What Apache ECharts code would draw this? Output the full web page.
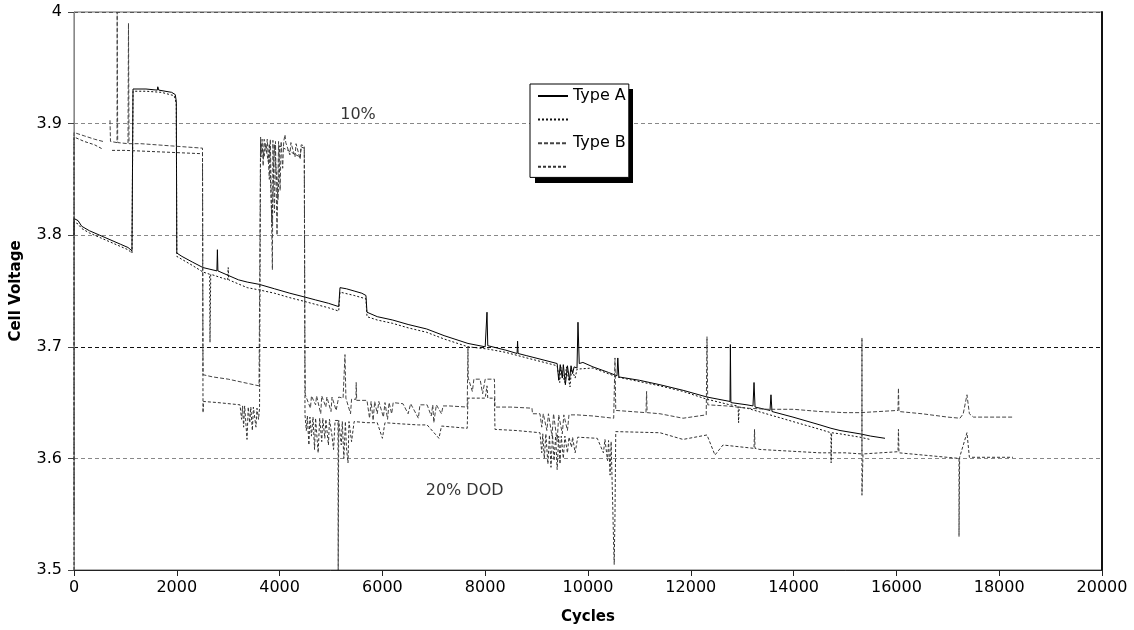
<!DOCTYPE html>
<html>
<head>
<meta charset="utf-8">
<script src="https://cdn.jsdelivr.net/npm/echarts@6/dist/echarts.min.js"></script>
<style>html,body{margin:0;padding:0;background:#fff}#c{width:1134px;height:630px}</style>
</head>
<body>
<div id="c"></div>
<script>
// Series names (legend)
const seriesNames = ['Type A', 'Type A (2)', 'Type B', 'Type B (2)'];
const legendLabels = ['Type A', '', 'Type B', ''];

// Axis settings
const xTicks = [0, 2000, 4000, 6000, 8000, 10000, 12000, 14000, 16000, 18000, 20000];
const yTicks = [3.5, 3.6, 3.7, 3.8, 3.9, 4];

// Annotations [cycles, voltage, text]
const notes = [[5525, 3.908, '10%'], [7600, 3.571, '20% DOD']];

// Type A – first cell  [cycles, cell voltage]
const typeA1 = [
 [0,3.800],[0,3.815],[80,3.813],[150,3.808],[300,3.804],[500,3.800],[700,3.796],[900,3.792],[1050,3.789],[1128,3.786],
 [1148,3.931],[1400,3.931],[1620,3.930],[1630,3.933],[1650,3.930],[1900,3.928],[1970,3.926],[1990,3.920],
 [2000,3.784],[2100,3.781],[2300,3.776],[2510,3.771],[2780,3.768],[2790,3.787],[2800,3.768],[3000,3.764],[3200,3.760],
 [3370,3.758],[3600,3.756],[3900,3.752],[4200,3.748],[4455,3.745],[4700,3.742],[4950,3.739],[5150,3.736],
 [5175,3.753],[5300,3.752],[5450,3.750],[5600,3.748],[5680,3.746],[5700,3.731],[5900,3.727],[6200,3.724],[6500,3.720],
 [6860,3.716],[7200,3.710],[7665,3.703],[8000,3.700],[8035,3.731],[8050,3.701],[8400,3.697],[8620,3.694],[8630,3.705],
 [8640,3.694],[8810,3.692],[9066,3.689],[9400,3.685],[9430,3.670],[9460,3.684],[9500,3.672],[9520,3.684],[9560,3.666],
 [9600,3.683],[9640,3.670],[9670,3.683],[9700,3.676],[9730,3.682],
 [9786,3.681],[9805,3.722],[9830,3.685],[9900,3.686],[10097,3.682],[10400,3.677],[10564,3.674],[10580,3.690],[10600,3.673],
 [11000,3.670],[11400,3.666],[11850,3.661],[12315,3.655],[12763,3.651],[12770,3.702],[12780,3.650],[13093,3.648],
 [13210,3.647],[13230,3.668],[13250,3.646],[13541,3.643],[13560,3.657],[13580,3.642],[13988,3.637],[14513,3.630],
 [14727,3.627],[14903,3.625],[15292,3.622],[15500,3.620],[15778,3.618]
];

// Type A – second cell
const typeA2 = [
 [0,3.800],[0,3.812],[80,3.810],[150,3.806],[300,3.802],[500,3.798],[700,3.794],[900,3.790],[1050,3.787],[1128,3.784],
 [1148,3.929],[1400,3.929],[1700,3.928],[1950,3.925],[1990,3.918],
 [2000,3.781],[2300,3.773],[2510,3.767],[2640,3.765],[2646,3.704],[2660,3.765],[2990,3.760],[3000,3.771],[3010,3.760],
 [3370,3.753],[3600,3.751],[3900,3.748],[4200,3.744],[4455,3.741],[4700,3.738],[4950,3.735],[5150,3.732],
 [5175,3.749],[5450,3.746],[5680,3.743],[5700,3.727],[5900,3.724],[6200,3.721],[6500,3.717],[6860,3.713],[7200,3.707],
 [7665,3.700],[8050,3.698],[8400,3.695],[8810,3.690],[9066,3.687],[9400,3.683],[9450,3.668],[9470,3.682],[9550,3.668],
 [9580,3.682],[9650,3.664],[9680,3.680],[9750,3.672],[9786,3.680],[10097,3.681],[10564,3.673],[11400,3.665],[11850,3.660],
 [12315,3.653],[12763,3.648],[12920,3.647],[12930,3.632],[12940,3.646],[13093,3.645],[13541,3.639],[13988,3.633],
 [14513,3.626],[14727,3.623],[14730,3.596],[14740,3.623],[14903,3.622],[15292,3.619],[15486,3.617]
];

// Type B – first cell
const typeB1 = [
 [0,3.550],[0,3.892],[200,3.889],[400,3.886],[564,3.884],[640,'-'],[700,3.903],[710,3.884],[837,3.883],[840,4.0],[850,3.883],
 [1051,3.882],[1060,3.990],[1070,3.882],[1300,3.882],[1600,3.881],[1900,3.880],[2200,3.879],[2500,3.878],
 [2510,3.675],[2700,3.673],[3000,3.671],[3300,3.668],[3600,3.665],[3619,3.664],
 [3630,3.888],[3640,3.870],[3660,3.886],[3680,3.862],[3700,3.886],[3740,3.875],[3760,3.886],[3800,3.850],[3820,3.886],
 [3852,3.887],[3860,3.769],[3870,3.885],[3900,3.820],[3920,3.884],[3950,3.800],[3980,3.884],[4010,3.840],[4030,3.884],
 [4060,3.860],[4080,3.884],[4105,3.890],[4120,3.883],[4200,3.872],[4220,3.883],[4300,3.870],[4320,3.882],[4400,3.868],
 [4420,3.881],[4480,3.880],[4494,3.686],[4500,3.657],[4600,3.645],[4620,3.656],[4700,3.648],[4720,3.656],[4800,3.640],
 [4820,3.656],[4900,3.646],[4920,3.655],[5000,3.642],[5020,3.655],[5100,3.643],[5150,3.655],
 [5235,3.654],[5272,3.693],[5290,3.654],[5380,3.640],[5400,3.653],[5486,3.653],[5490,3.668],[5500,3.652],[5700,3.652],
 [5750,3.636],[5780,3.651],[5820,3.634],[5850,3.651],[5900,3.640],[5930,3.651],
 [5950,3.651],[6020,3.637],[6050,3.650],[6100,3.635],[6130,3.650],[6180,3.640],[6210,3.650],[6400,3.649],[6500,3.640],
 [6550,3.649],[6700,3.636],[6730,3.648],[6870,3.648],[6950,3.638],[6980,3.648],[7000,3.632],[7050,3.648],[7150,3.640],
 [7180,3.647],[7300,3.647],[7650,3.646],[7665,3.700],[7670,3.672],[7750,3.660],[7780,3.671],[7900,3.671],[7950,3.658],
 [8000,3.671],[8035,3.672],[8180,3.671],
 [8190,3.646],[8500,3.646],[8910,3.645],[8920,3.640],[9066,3.640],[9100,3.628],[9130,3.640],[9200,3.625],[9230,3.640],
 [9300,3.620],[9330,3.640],[9400,3.615],[9430,3.639],[9500,3.622],[9530,3.639],[9600,3.625],[9630,3.639],
 [9786,3.639],[10100,3.638],[10500,3.636],[10525,3.690],[10540,3.643],[11128,3.641],
 [11140,3.660],[11150,3.641],[11400,3.640],[11848,3.636],[12300,3.639],[12315,3.709],[12330,3.648],[12700,3.647],
 [13093,3.645],[13500,3.644],[14000,3.644],[14513,3.642],[15000,3.641],[15300,3.641],[16031,3.643],[16040,3.663],
 [16050,3.642],[16500,3.640],[17000,3.637],[17237,3.636],[17300,3.640],[17373,3.657],[17420,3.640],[17500,3.637],[18268,3.637]
];

// Type B – second cell
const typeB2 = [
 [0,3.500],[0,3.888],[200,3.884],[400,3.881],[564,3.877],[650,'-'],[740,3.876],[1000,3.876],[1500,3.875],[2000,3.874],
 [2500,3.873],[2510,3.641],[2520,3.651],[2800,3.650],[3230,3.648],[3260,3.635],[3280,3.647],[3300,3.628],[3320,3.647],
 [3366,3.617],[3390,3.646],[3420,3.632],[3440,3.646],[3470,3.625],[3490,3.646],[3540,3.628],[3560,3.645],[3590,3.635],
 [3610,3.645],[3619,3.645],
 [3630,3.883],[3700,3.870],[3720,3.882],[3780,3.866],[3800,3.882],[3852,3.808],[3900,3.881],[3970,3.832],[4000,3.880],
 [4400,3.870],[4420,3.879],[4480,3.878],
 [4494,3.639],[4520,3.625],[4540,3.638],[4570,3.612],[4590,3.637],[4620,3.620],[4650,3.637],[4680,3.608],[4700,3.636],
 [4750,3.605],[4780,3.636],[4820,3.615],[4840,3.636],[4880,3.618],[4900,3.635],[4950,3.612],[4970,3.635],[5020,3.620],
 [5050,3.608],[5080,3.634],[5136,3.634],[5140,3.500],[5150,3.634],[5200,3.612],[5220,3.633],[5250,3.600],[5280,3.633],
 [5300,3.610],[5331,3.596],[5350,3.633],[5400,3.615],
 [5450,3.633],[5700,3.632],[5900,3.632],[6000,3.618],[6050,3.632],[6342,3.631],[6700,3.630],[6870,3.630],[7100,3.618],
 [7150,3.629],[7650,3.627],[7665,3.654],[8000,3.654],[8035,3.665],[8050,3.654],[8180,3.654],[8190,3.626],[8600,3.625],
 [9066,3.623],[9100,3.605],[9120,3.622],[9150,3.600],[9180,3.622],[9220,3.595],[9250,3.621],[9280,3.592],[9310,3.621],
 [9340,3.598],[9370,3.620],[9400,3.590],[9430,3.620],[9455,3.595],[9480,3.620],[9520,3.600],[9550,3.620],[9600,3.605],
 [9630,3.619],[9680,3.610],[9700,3.619],[9750,3.605],[9800,3.619],[10180,3.618],[10300,3.605],[10330,3.617],
 [10380,3.598],[10400,3.616],[10430,3.585],[10450,3.615],[10480,3.560],[10500,3.520],[10510,3.505],[10525,3.550],
 [10540,3.624],[11400,3.623],[11848,3.617],[12315,3.621],[12470,3.603],[12626,3.612],[13230,3.609],[13240,3.626],
 [13250,3.609],[13346,3.608],[14513,3.605],[15000,3.605],[15330,3.604],[15330,3.708],[15330,3.567],[15350,3.604],
 [16031,3.606],[16040,3.626],[16050,3.605],[17218,3.600],[17218,3.530],[17230,3.601],[17373,3.623],[17420,3.601],[18268,3.601]
];

const seriesData = [typeA1, typeA2, typeB1, typeB2];
const seriesStyle = [
  {color:'#000', type:'solid'},
  {color:'#111', type:[2,2]},
  {color:'#444', type:[4,2]},
  {color:'#333', type:[3,2]}
];

const FONT = '"DejaVu Sans", Arial, sans-serif';
const chart = echarts.init(document.getElementById('c'), null, {renderer:'canvas'});

const series = seriesData.map((d, i) => ({
  name: seriesNames[i],
  type: 'line',
  data: d,
  showSymbol: false,
  symbol: 'none',
  connectNulls: false,
  silent: true,
  lineStyle: {color: seriesStyle[i].color, width: 1, type: seriesStyle[i].type},
  itemStyle: {color: seriesStyle[i].color},
  z: 3
}));

// annotation texts through the chart's own coordinate system
series.push({
  name: 'notes',
  type: 'scatter',
  data: notes.map(n => ({value: [n[0], n[1]], label: {formatter: n[2]}})),
  symbolSize: 0,
  silent: true,
  label: {show: true, position: 'inside', color: '#000', fontFamily: FONT, fontSize: 16},
  z: 4
});

chart.setOption({
  animation: false,
  backgroundColor: '#fff',
  grid: {left: 74, right: 32, top: 12, bottom: 60, show: true, borderColor: '#666', borderWidth: 1, containLabel: false},
  // drop shadow of the legend box
  graphic: [{
    type: 'rect', left: 535, top: 89, z: 50, silent: true,
    shape: {width: 98, height: 94},
    style: {fill: '#000'}
  }],
  legend: {
    data: seriesNames,
    orient: 'vertical',
    left: 530, top: 84,
    z: 60,
    itemWidth: 30, itemHeight: 14, itemGap: 10,
    padding: [4, 3, 5, 7],
    backgroundColor: '#fff',
    borderColor: '#000', borderWidth: 1,
    itemStyle: {opacity: 0},
    formatter: name => legendLabels[seriesNames.indexOf(name)],
    textStyle: {fontFamily: FONT, fontSize: 16, color: '#000', lineHeight: 16},
    selectedMode: false
  },
  xAxis: {
    type: 'value', min: xTicks[0], max: xTicks[xTicks.length-1], interval: 2000,
    name: 'Cycles', nameLocation: 'middle', nameGap: 40,
    nameTextStyle: {fontFamily: FONT, fontSize: 15, fontWeight: 'bold', color: '#000'},
    axisLine: {show: true, onZero: false, lineStyle: {color: '#222', width: 1}},
    axisTick: {show: true, inside: false, length: 6, lineStyle: {color: '#222'}},
    axisLabel: {fontFamily: FONT, fontSize: 16, color: '#000', margin: 10, formatter: v => String(v)},
    splitLine: {show: false}
  },
  yAxis: [{
    type: 'value', min: yTicks[0], max: yTicks[yTicks.length-1], interval: 0.1,
    name: 'Cell Voltage', nameLocation: 'middle', nameGap: 50, nameRotate: 90,
    nameTextStyle: {fontFamily: FONT, fontSize: 15, fontWeight: 'bold', color: '#000'},
    axisLine: {show: true, lineStyle: {color: '#888', width: 1}},
    axisTick: {show: true, inside: false, length: 6, lineStyle: {color: '#444'}},
    axisLabel: {fontFamily: FONT, fontSize: 16, color: '#000', margin: 12,
      formatter: v => String(Math.round(v * 10) / 10)},
    splitLine: {show: true, lineStyle: {color: ['#888', '#888', '#111', '#888', '#888', '#555'], type: [4, 3], width: 1}}
  }, {
    type: 'value', min: yTicks[0], max: yTicks[yTicks.length-1], interval: 0.1, position: 'right',
    axisLine: {show: true, lineStyle: {color: '#111', width: 2}},
    axisTick: {show: false}, axisLabel: {show: false}, splitLine: {show: false}
  }],
  series: series
});
</script>
</body>
</html>
